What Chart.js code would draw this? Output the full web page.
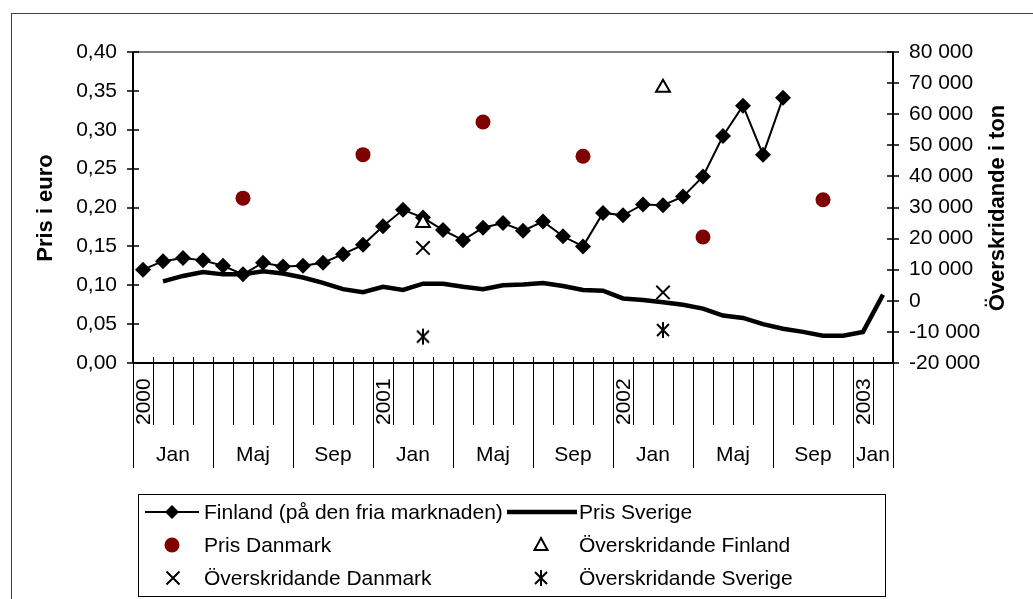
<!DOCTYPE html>
<html lang="sv">
<head>
<meta charset="UTF-8" />
<title>Pris och överskridande</title>
<script src="https://cdn.jsdelivr.net/npm/chart.js@4.4.0/dist/chart.umd.min.js"></script>
<style>
  body { margin: 0; background: #fff; }
  #wrap { position: relative; width: 1033px; height: 599px; }
</style>
</head>
<body>
<div id="wrap"><canvas id="pris-graph" width="1033" height="599"></canvas></div>
<script>
// x-axis: one category per month, Jan 2000 - Feb 2003
const categories = [
  'jan 2000','feb 2000','mar 2000','apr 2000','maj 2000','jun 2000','jul 2000','aug 2000','sep 2000','okt 2000','nov 2000','dec 2000',
  'jan 2001','feb 2001','mar 2001','apr 2001','maj 2001','jun 2001','jul 2001','aug 2001','sep 2001','okt 2001','nov 2001','dec 2001',
  'jan 2002','feb 2002','mar 2002','apr 2002','maj 2002','jun 2002','jul 2002','aug 2002','sep 2002','okt 2002','nov 2002','dec 2002',
  'jan 2003','feb 2003'
];
const groupLabels = { jan: 'Jan', maj: 'Maj', sep: 'Sep' };

// left axis (Pris i euro)
const finland = [0.120,0.131,0.135,0.132,0.125,0.114,0.129,0.124,0.125,0.129,0.140,0.152,
                 0.176,0.197,0.187,0.171,0.158,0.174,0.180,0.170,0.182,0.163,0.150,0.193,
                 0.190,0.204,0.203,0.214,0.240,0.292,0.331,0.268,0.341,null,null,null,
                 null,null];
const sverige = [null,0.105,0.112,0.117,0.114,0.114,0.118,0.115,0.110,0.103,0.095,0.091,
                 0.098,0.094,0.102,0.102,0.098,0.095,0.100,0.101,0.103,0.099,0.094,0.093,
                 0.083,0.081,0.078,0.075,0.070,0.061,0.058,0.050,0.044,0.040,0.035,0.035,
                 0.040,0.088];
const danmarkPris = [null,null,null,null,null,0.212,null,null,null,null,null,0.268,
                     null,null,null,null,null,0.310,null,null,null,null,0.266,null,
                     null,null,null,null,0.162,null,null,null,null,null,0.210,null,
                     null,null];

// right axis (Överskridande i ton)
const overFinland = [null,null,null,null,null,null,null,null,null,null,null,null,
                     null,null,25000,null,null,null,null,null,null,null,null,null,
                     null,null,68500,null,null,null,null,null,null,null,null,null,
                     null,null];
const overDanmark = [null,null,null,null,null,null,null,null,null,null,null,null,
                     null,null,17000,null,null,null,null,null,null,null,null,null,
                     null,null,2700,null,null,null,null,null,null,null,null,null,
                     null,null];
const overSverige = [null,null,null,null,null,null,null,null,null,null,null,null,
                     null,null,-11500,null,null,null,null,null,null,null,null,null,
                     null,null,-9400,null,null,null,null,null,null,null,null,null,
                     null,null];

const FONT = "'Liberation Sans', Arial, sans-serif";
const DARKRED = '#800000';

function asteriskImage() {
  const c = document.createElement('canvas');
  c.width = 18; c.height = 18;
  const g = c.getContext('2d');
  g.strokeStyle = '#000';
  g.lineWidth = 2;
  g.beginPath();
  g.moveTo(3, 3); g.lineTo(15, 15);
  g.moveTo(15, 3); g.lineTo(3, 15);
  g.moveTo(9, 1); g.lineTo(9, 17);
  g.stroke();
  return c;
}
const asterisk = asteriskImage();

function fmtEuro(v) { return v.toFixed(2).replace('.', ','); }
function fmtTon(v) {
  const s = Math.abs(Math.round(v)).toString().replace(/\B(?=(\d{3})+(?!\d))/g, ' ');
  return (v < 0 ? '-' : '') + s;
}

function drawMarker(ctx, kind, x, y) {
  ctx.save();
  ctx.strokeStyle = '#000';
  ctx.fillStyle = '#000';
  if (kind === 'diamond') {
    ctx.lineWidth = 2;
    ctx.beginPath(); ctx.moveTo(x - 27, y); ctx.lineTo(x + 27, y); ctx.stroke();
    ctx.beginPath();
    ctx.moveTo(x, y - 7); ctx.lineTo(x + 7, y); ctx.lineTo(x, y + 7); ctx.lineTo(x - 7, y);
    ctx.closePath(); ctx.fill();
  } else if (kind === 'thick') {
    ctx.lineWidth = 4.5;
    ctx.beginPath(); ctx.moveTo(x - 35, y); ctx.lineTo(x + 35, y); ctx.stroke();
  } else if (kind === 'circle') {
    ctx.fillStyle = DARKRED;
    ctx.beginPath(); ctx.arc(x, y, 7.5, 0, Math.PI * 2); ctx.fill();
  } else if (kind === 'triangle') {
    ctx.lineWidth = 2;
    ctx.fillStyle = '#fff';
    ctx.beginPath();
    ctx.moveTo(x, y - 7); ctx.lineTo(x + 6.5, y + 5); ctx.lineTo(x - 6.5, y + 5);
    ctx.closePath(); ctx.fill(); ctx.stroke();
  } else if (kind === 'cross') {
    ctx.lineWidth = 2;
    ctx.beginPath();
    ctx.moveTo(x - 6.5, y - 6.5); ctx.lineTo(x + 6.5, y + 6.5);
    ctx.moveTo(x + 6.5, y - 6.5); ctx.lineTo(x - 6.5, y + 6.5);
    ctx.stroke();
  } else if (kind === 'asterisk') {
    ctx.drawImage(asterisk, x - 9, y - 9);
  }
  ctx.restore();
}

const decor = {
  id: 'decor',
  beforeDatasetsDraw(chart) {
    const ctx = chart.ctx;
    const area = chart.chartArea;
    const x = chart.scales.x, y = chart.scales.y, y1 = chart.scales.y1;
    ctx.save();
    // outer frame
    ctx.strokeStyle = '#404040';
    ctx.lineWidth = 1;
    ctx.strokeRect(11.5, 13.5, 1100, 700);
    // plot area top edge
    ctx.strokeStyle = '#808080';
    ctx.lineWidth = 2;
    ctx.beginPath(); ctx.moveTo(area.left, area.top); ctx.lineTo(area.right, area.top); ctx.stroke();
    // axes
    ctx.strokeStyle = '#000';
    ctx.lineWidth = 2;
    ctx.beginPath();
    ctx.moveTo(area.left, area.top); ctx.lineTo(area.left, area.bottom);
    ctx.moveTo(area.right, area.top); ctx.lineTo(area.right, area.bottom);
    ctx.moveTo(area.left, area.bottom); ctx.lineTo(area.right, area.bottom);
    ctx.stroke();
    ctx.lineWidth = 1.3;
    ctx.beginPath();
    y.ticks.forEach(t => {
      const py = Math.round(y.getPixelForValue(t.value));
      ctx.moveTo(area.left - 6, py); ctx.lineTo(area.left + 6, py);
    });
    y1.ticks.forEach(t => {
      const py = Math.round(y1.getPixelForValue(t.value));
      ctx.moveTo(area.right - 6, py); ctx.lineTo(area.right + 6, py);
    });
    ctx.stroke();
    // category ticks and group separators
    const n = categories.length;
    const half = (x.getPixelForValue(1) - x.getPixelForValue(0)) / 2;
    ctx.lineWidth = 1;
    ctx.strokeStyle = '#000';
    ctx.beginPath();
    for (let i = 0; i <= n; i++) {
      const bx = Math.round(i < n ? x.getPixelForValue(i) - half : x.getPixelForValue(n - 1) + half) + 0.5;
      const mon = i < n ? categories[i].split(' ')[0] : null;
      const major = i === 0 || i === n || groupLabels[mon];
      ctx.moveTo(bx, area.bottom - 6);
      ctx.lineTo(bx, major ? 468 : 425);
    }
    ctx.stroke();
    ctx.restore();
  },
  afterDraw(chart) {
    const ctx = chart.ctx;
    const x = chart.scales.x;
    const n = categories.length;
    const half = (x.getPixelForValue(1) - x.getPixelForValue(0)) / 2;
    ctx.save();
    ctx.fillStyle = '#000';
    ctx.font = '21px ' + FONT;
    // year labels (rotated) and month group labels
    const starts = [];
    categories.forEach((c, i) => {
      const [mon, year] = c.split(' ');
      const left = x.getPixelForValue(i) - half;
      if (mon === 'jan') {
        ctx.save();
        ctx.translate(left + 17, 425);
        ctx.rotate(-Math.PI / 2);
        ctx.textAlign = 'left';
        ctx.textBaseline = 'alphabetic';
        ctx.fillText(year, 0, 0);
        ctx.restore();
      }
      if (groupLabels[mon]) starts.push(i);
    });
    ctx.textAlign = 'center';
    ctx.textBaseline = 'alphabetic';
    starts.forEach((s, k) => {
      const e = k + 1 < starts.length ? starts[k + 1] : n;
      const a = x.getPixelForValue(s) - half;
      const b = x.getPixelForValue(e - 1) + half;
      ctx.fillText(groupLabels[categories[s].split(' ')[0]], (a + b) / 2, 461);
    });
    // axis titles
    ctx.font = 'bold 22px ' + FONT;
    [['Pris i euro', 46], ['Överskridande i ton', 998]].forEach(([txt, cx]) => {
      ctx.save();
      ctx.translate(cx, 208);
      ctx.rotate(-Math.PI / 2);
      ctx.textAlign = 'center';
      ctx.textBaseline = 'middle';
      ctx.fillText(txt, 0, 0);
      ctx.restore();
    });
    // legend
    ctx.strokeStyle = '#000';
    ctx.lineWidth = 1;
    ctx.strokeRect(138.5, 494.5, 747, 102);
    ctx.font = '21px ' + FONT;
    ctx.textAlign = 'left';
    ctx.textBaseline = 'middle';
    const items = [
      [chart.data.datasets[1].label, 'diamond', 172, 204, 512],
      [chart.data.datasets[0].label, 'thick', 542, 579, 512],
      [chart.data.datasets[2].label, 'circle', 172, 204, 545],
      [chart.data.datasets[3].label, 'triangle', 541, 579, 545],
      [chart.data.datasets[4].label, 'cross', 173, 204, 578],
      [chart.data.datasets[5].label, 'asterisk', 541, 579, 578]
    ];
    items.forEach(([label, kind, mx, tx, ty]) => {
      drawMarker(ctx, kind, mx, ty);
      ctx.fillText(label, tx, ty + 1);
    });
    ctx.restore();
  }
};

Chart.defaults.font.family = FONT;
Chart.defaults.color = '#000';

const prisChart = document.getElementById('pris-graph').getContext('2d');
const prisGraph = new Chart(prisChart, {
  type: 'line',
  data: {
    labels: categories,
    datasets: [
      {
        label: 'Pris Sverige',
        data: sverige,
        yAxisID: 'y',
        borderColor: '#000',
        borderWidth: 4.5,
        pointRadius: 0,
        tension: 0,
        order: 6
      },
      {
        label: 'Finland (på den fria marknaden)',
        data: finland,
        yAxisID: 'y',
        borderColor: '#000',
        borderWidth: 2,
        backgroundColor: '#000',
        pointStyle: 'rectRot',
        pointRadius: 8,
        pointBorderWidth: 0,
        pointBackgroundColor: '#000',
        order: 5
      },
      {
        label: 'Pris Danmark',
        data: danmarkPris,
        yAxisID: 'y',
        showLine: false,
        pointStyle: 'circle',
        pointRadius: 7.5,
        pointBorderWidth: 0,
        pointBackgroundColor: DARKRED,
        pointBorderColor: DARKRED,
        order: 4
      },
      {
        label: 'Överskridande Finland',
        data: overFinland,
        yAxisID: 'y1',
        showLine: false,
        pointStyle: 'triangle',
        pointRadius: 8,
        pointBorderWidth: 2,
        pointBackgroundColor: '#fff',
        pointBorderColor: '#000',
        order: 3
      },
      {
        label: 'Överskridande Danmark',
        data: overDanmark,
        yAxisID: 'y1',
        showLine: false,
        pointStyle: 'crossRot',
        pointRadius: 9.5,
        pointBorderWidth: 2,
        pointBorderColor: '#000',
        order: 2
      },
      {
        label: 'Överskridande Sverige',
        data: overSverige,
        yAxisID: 'y1',
        showLine: false,
        pointStyle: asterisk,
        pointRadius: 9,
        order: 1
      }
    ]
  },
  options: {
    responsive: false,
    animation: false,
    events: [],
    layout: { padding: { top: 52, bottom: 236, left: 0, right: 0 } },
    plugins: { legend: { display: false }, tooltip: { enabled: false } },
    scales: {
      x: {
        display: false,
        offset: true
      },
      y: {
        position: 'left',
        min: 0,
        max: 0.4,
        grid: { display: false, drawTicks: false },
        border: { display: false },
        ticks: {
          stepSize: 0.05,
          padding: 16,
          font: { size: 21 },
          callback: v => fmtEuro(v)
        },
        afterFit: s => { s.width = 133; }
      },
      y1: {
        position: 'right',
        min: -20000,
        max: 80000,
        grid: { display: false, drawTicks: false },
        border: { display: false },
        ticks: {
          stepSize: 10000,
          padding: 16,
          font: { size: 21 },
          callback: v => fmtTon(v)
        },
        afterFit: s => { s.width = 140; }
      }
    }
  },
  plugins: [decor]
});
</script>
</body>
</html>
